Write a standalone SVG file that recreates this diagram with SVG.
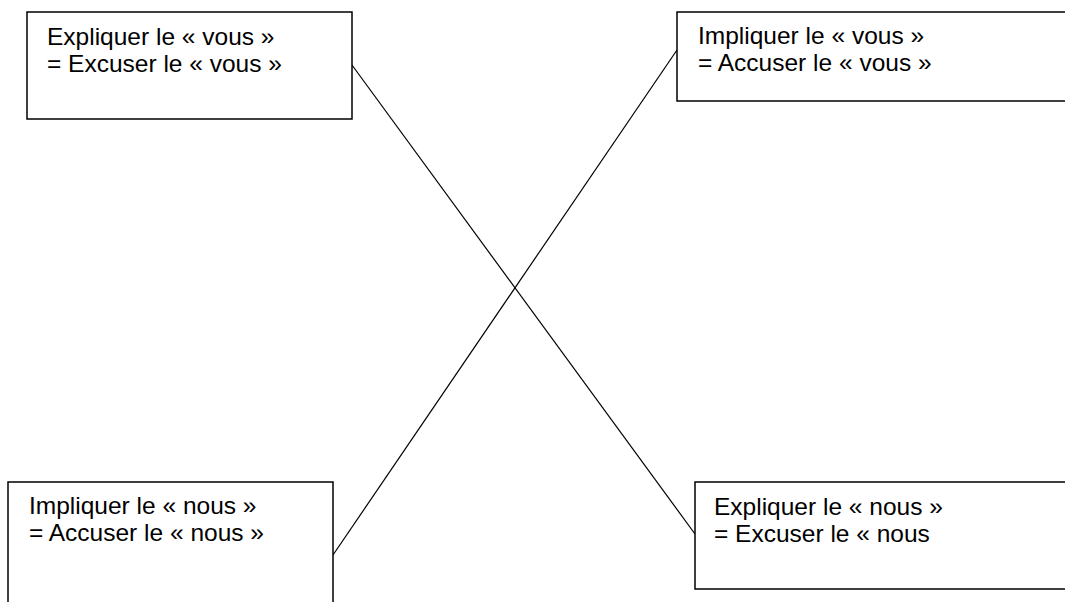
<svg xmlns="http://www.w3.org/2000/svg" width="1065" height="602" viewBox="0 0 1065 602">
<style>
.box{fill:#fff;stroke:#000;stroke-width:1.5}
.t{font-family:"Liberation Sans",Arial,sans-serif;font-size:24.5px;fill:#000}
.c{stroke:#000;stroke-width:1.2;fill:none}
</style>
<rect width="1065" height="602" fill="#fff"/>
<g id="connectors">
<line class="c" x1="352" y1="65" x2="695" y2="534"/>
<line class="c" x1="333" y1="555" x2="677" y2="50"/>
</g>
<g id="node-expliquer-vous">
<rect class="box" x="27" y="12" width="325" height="107"/>
<text class="t" x="47" y="45">Expliquer le « vous »</text>
<text class="t" x="47" y="72">= Excuser le « vous »</text>
</g>
<g id="node-impliquer-vous">
<rect class="box" x="677" y="12" width="400" height="89"/>
<text class="t" x="698" y="44">Impliquer le « vous »</text>
<text class="t" x="698" y="71">= Accuser le « vous »</text>
</g>
<g id="node-impliquer-nous">
<rect class="box" x="8" y="482" width="325" height="130"/>
<text class="t" x="29" y="514">Impliquer le « nous »</text>
<text class="t" x="29" y="541">= Accuser le « nous »</text>
</g>
<g id="node-expliquer-nous">
<rect class="box" x="695" y="482" width="380" height="107"/>
<text class="t" x="714" y="515">Expliquer le « nous »</text>
<text class="t" x="714" y="542">= Excuser le « nous</text>
</g>
</svg>
